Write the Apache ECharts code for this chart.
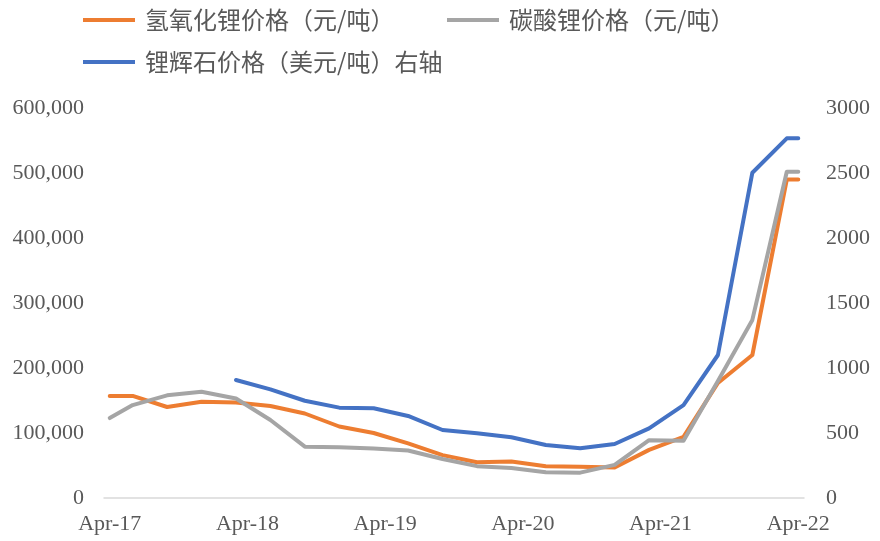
<!DOCTYPE html>
<html>
<head>
<meta charset="utf-8">
<script src="https://cdn.jsdelivr.net/npm/echarts@6/dist/echarts.min.js"></script>
<style>
html,body{margin:0;padding:0;background:#fff;}
#chart{width:880px;height:541px;}
</style>
</head>
<body>
<div id="chart"></div>
<script>
// Monthly category axis (Excel date axis), labels shown every 12 months
var months = [
  'Apr-17','May-17','Jun-17','Jul-17','Aug-17','Sep-17','Oct-17','Nov-17','Dec-17','Jan-18','Feb-18','Mar-18',
  'Apr-18','May-18','Jun-18','Jul-18','Aug-18','Sep-18','Oct-18','Nov-18','Dec-18','Jan-19','Feb-19','Mar-19',
  'Apr-19','May-19','Jun-19','Jul-19','Aug-19','Sep-19','Oct-19','Nov-19','Dec-19','Jan-20','Feb-20','Mar-20',
  'Apr-20','May-20','Jun-20','Jul-20','Aug-20','Sep-20','Oct-20','Nov-20','Dec-20','Jan-21','Feb-21','Mar-21',
  'Apr-21','May-21','Jun-21','Jul-21','Aug-21','Sep-21','Oct-21','Nov-21','Dec-21','Jan-22','Feb-22','Mar-22',
  'Apr-22'
];
// Observation dates
var dates = ['Apr-17','Jun-17','Sep-17','Dec-17','Mar-18','Jun-18','Sep-18','Dec-18','Mar-19','Jun-19','Sep-19',
             'Dec-19','Mar-20','Jun-20','Sep-20','Dec-20','Mar-21','Jun-21','Sep-21','Dec-21','Mar-22','Apr-22'];
// 氢氧化锂价格（元/吨）
var lioh = [157000,157000,140000,148000,147000,141500,130000,110000,100000,84000,66000,
            55000,56000,49000,48000,47000,74000,94000,177000,220000,490000,490000];
// 碳酸锂价格（元/吨）
var li2co3 = [123000,143000,158000,163500,153000,120000,79000,78000,76000,73000,60000,
              49000,46000,39500,39000,51000,89000,88000,180000,274000,502000,502000];
// 锂辉石价格（美元/吨）右轴
var spodumene = [null,null,null,null,908,836,748,695,690,631,523,
                 498,467,408,382,415,536,715,1100,2502,2767,2767];

var names = ['氢氧化锂价格（元/吨）','碳酸锂价格（元/吨）','锂辉石价格（美元/吨）右轴'];
var colors = ['#ED7D31','#A5A5A5','#4472C4'];

function pairs(vals){
  var out = [];
  for (var i = 0; i < dates.length; i++) {
    if (vals[i] !== null) out.push([dates[i], vals[i]]);
  }
  return out;
}

var serif = 'Liberation Serif';
var cjk = 'Noto Sans CJK SC';
var legendText = {fontFamily: cjk, fontSize: 24, color: '#595959', lineHeight: 26, padding: [0,0,0,5]};
function mkLegend(name, left, top){
  return {data: [name], left: left, top: top, icon: 'rect', itemWidth: 52, itemHeight: 4,
          textStyle: legendText, selectedMode: false, padding: 0};
}

var chart = echarts.init(document.getElementById('chart'), null, {renderer: 'canvas'});
chart.setOption({
  animation: false,
  backgroundColor: '#fff',
  legend: [
    mkLegend(names[0], 83, 7),
    mkLegend(names[1], 447, 7),
    mkLegend(names[2], 83, 49)
  ],
  grid: {left: 104, right: 76, top: 108, bottom: 43, containLabel: false},
  xAxis: {
    type: 'category',
    data: months,
    boundaryGap: true,
    axisLine: {lineStyle: {color: '#D9D9D9', width: 1.5}},
    axisTick: {show: false},
    axisLabel: {interval: 11, color: '#595959', fontFamily: serif, fontSize: 22, margin: 15}
  },
  yAxis: [
    {
      type: 'value', min: 0, max: 600000, interval: 100000,
      splitLine: {show: false}, axisLine: {show: false}, axisTick: {show: false},
      axisLabel: {color: '#595959', fontFamily: serif, fontSize: 22, margin: 20,
                  formatter: function(v){ return v.toLocaleString('en-US'); }}
    },
    {
      type: 'value', min: 0, max: 3000, interval: 500, position: 'right',
      splitLine: {show: false}, axisLine: {show: false}, axisTick: {show: false},
      axisLabel: {color: '#595959', fontFamily: serif, fontSize: 22, margin: 22,
                  formatter: function(v){ return String(v); }}
    }
  ],
  series: [
    {name: names[0], type: 'line', data: pairs(lioh), yAxisIndex: 0, symbol: 'none',
     lineStyle: {color: colors[0], width: 4, cap: 'round', join: 'round'}, itemStyle: {color: colors[0]}},
    {name: names[1], type: 'line', data: pairs(li2co3), yAxisIndex: 0, symbol: 'none',
     lineStyle: {color: colors[1], width: 4, cap: 'round', join: 'round'}, itemStyle: {color: colors[1]}},
    {name: names[2], type: 'line', data: pairs(spodumene), yAxisIndex: 1, symbol: 'none',
     lineStyle: {color: colors[2], width: 4, cap: 'round', join: 'round'}, itemStyle: {color: colors[2]}}
  ]
});
</script>
</body>
</html>
